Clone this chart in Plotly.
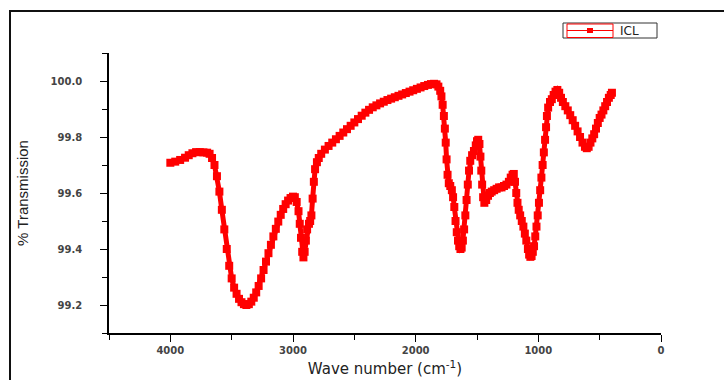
import plotly.graph_objects as go

# Wavenumber (cm^-1) and % transmission
wavenumber = [
    4000, 3960, 3920, 3880, 3850, 3820, 3790, 3760, 3730, 3700, 3680, 3660, 3640, 3620, 3600,
    3580, 3560, 3540, 3520, 3500, 3480, 3460, 3440, 3420, 3400, 3380, 3360, 3340, 3320, 3300,
    3280, 3260, 3240, 3220, 3200, 3180, 3160, 3140, 3120, 3100, 3080, 3060, 3040, 3020, 3000,
    2985, 2970, 2955, 2945, 2935, 2925, 2915, 2905, 2895, 2885, 2870, 2860, 2850, 2840, 2830,
    2820, 2805, 2790, 2770, 2740, 2710, 2680, 2650, 2620, 2590, 2560, 2530, 2500, 2470, 2440,
    2410, 2380, 2350, 2320, 2290, 2260, 2230, 2200, 2170, 2140, 2110, 2080, 2050, 2020, 1990,
    1960, 1930, 1900, 1875, 1850, 1830, 1815, 1800, 1790, 1780, 1770, 1762, 1755, 1748, 1740,
    1730, 1718, 1705, 1695, 1685, 1675, 1665, 1655, 1645, 1635, 1625, 1615, 1605, 1595, 1585,
    1575, 1565, 1555, 1540, 1525, 1510, 1500, 1490, 1480, 1472, 1465, 1458, 1450, 1440, 1425,
    1410, 1395, 1380, 1360, 1340, 1320, 1300, 1280, 1260, 1240, 1225, 1210, 1200, 1190, 1180,
    1170, 1160, 1148, 1135, 1122, 1110, 1098, 1085, 1075, 1065, 1055, 1045, 1035, 1025, 1015,
    1005, 995, 985, 975, 965, 955, 945, 937, 930, 920, 905, 890, 875, 860, 845,
    830, 815, 800, 780, 760, 740, 720, 700, 680, 660, 640, 620, 605, 590, 575,
    560, 545, 530, 515, 500, 485, 470, 455, 440, 425, 410, 400,
]
transmission = [
    99.708, 99.712, 99.718, 99.726, 99.735, 99.742, 99.746, 99.746, 99.745, 99.744, 99.740, 99.725, 99.700, 99.660, 99.605,
    99.540, 99.470, 99.400, 99.340, 99.295, 99.262, 99.240, 99.222, 99.210, 99.203, 99.200, 99.203, 99.212, 99.226, 99.245,
    99.268, 99.295, 99.325, 99.355, 99.385, 99.415, 99.445, 99.472, 99.498, 99.522, 99.543, 99.560, 99.573, 99.582, 99.587,
    99.585, 99.568, 99.535, 99.490, 99.440, 99.390, 99.370, 99.390, 99.430, 99.470, 99.490, 99.500, 99.520, 99.580, 99.640,
    99.685, 99.710, 99.725, 99.740, 99.755, 99.768, 99.780, 99.792, 99.804, 99.816, 99.828, 99.840, 99.852, 99.864, 99.876,
    99.887, 99.897, 99.906, 99.913, 99.920, 99.926, 99.932, 99.937, 99.942, 99.947, 99.952, 99.957, 99.962, 99.967, 99.972,
    99.977, 99.982, 99.986, 99.989, 99.990, 99.988, 99.980, 99.965, 99.945, 99.915, 99.875, 99.830, 99.780, 99.720, 99.665,
    99.635, 99.625, 99.610, 99.585, 99.550, 99.500, 99.460, 99.430, 99.410, 99.400, 99.405, 99.430, 99.470, 99.520, 99.575,
    99.630, 99.680, 99.715, 99.735, 99.750, 99.770, 99.785, 99.790, 99.775, 99.730, 99.680, 99.630, 99.585, 99.565, 99.575,
    99.590, 99.600, 99.605, 99.610, 99.615, 99.620, 99.620, 99.625, 99.630, 99.640, 99.655, 99.665, 99.668, 99.640, 99.600,
    99.565, 99.540, 99.520, 99.500, 99.480, 99.455, 99.430, 99.400, 99.380, 99.372, 99.375, 99.390, 99.410, 99.445, 99.480,
    99.520, 99.565, 99.610, 99.655, 99.700, 99.745, 99.790, 99.835, 99.875, 99.905, 99.925, 99.935, 99.950, 99.962, 99.968,
    99.958, 99.940, 99.925, 99.910, 99.895, 99.878, 99.860, 99.840, 99.820, 99.800, 99.780, 99.765, 99.760, 99.765, 99.780,
    99.795, 99.810, 99.830, 99.850, 99.868, 99.880, 99.895, 99.910, 99.925, 99.940, 99.950, 99.958,
]
series_name = "ICL"
x_tick_values = [4000, 3000, 2000, 1000, 0]
y_tick_values = [99.2, 99.4, 99.6, 99.8, 100.0]

RED = "#ff0000"
W, H = 724, 380
ML, MR, MT, MB = 109, 63, 53, 47
PW, PH = W - ML - MR, H - MT - MB


def px_to_paper_x(px):
    return (px - ML) / PW


def px_to_paper_y(py):
    return (H - MB - py) / PH


fig = go.Figure()
fig.add_trace(go.Scatter(
    x=wavenumber, y=transmission, name=series_name,
    mode="lines+markers", showlegend=False,
    line=dict(color=RED, width=5),
    marker=dict(symbol="square", size=8, color=RED, line=dict(width=0)),
))

tickfont = dict(family="DejaVu Sans, Liberation Sans, sans-serif", size=10, color="#444444", weight="bold")

# hand-built legend box (matches the compact Origin-style legend)
lg_x0, lg_x1, lg_y0, lg_y1 = 563, 657, 23, 38
sym_x0, sym_x1 = 567, 613
lg_mid = (lg_y0 + lg_y1) / 2
legend_shapes = [
    dict(type="rect", xref="paper", yref="paper",
         x0=px_to_paper_x(lg_x0), x1=px_to_paper_x(lg_x1),
         y0=px_to_paper_y(lg_y1), y1=px_to_paper_y(lg_y0),
         line=dict(color="#333333", width=1), fillcolor="white"),
    dict(type="rect", xref="paper", yref="paper",
         x0=px_to_paper_x(sym_x0), x1=px_to_paper_x(sym_x1),
         y0=px_to_paper_y(lg_y1 - 0.5), y1=px_to_paper_y(lg_y0 + 1),
         line=dict(color=RED, width=1), fillcolor="rgba(0,0,0,0)"),
    dict(type="line", xref="paper", yref="paper",
         x0=px_to_paper_x(sym_x0), x1=px_to_paper_x(sym_x1),
         y0=px_to_paper_y(lg_mid), y1=px_to_paper_y(lg_mid),
         line=dict(color=RED, width=1)),
    dict(type="rect", xref="paper", yref="paper",
         x0=px_to_paper_x(587), x1=px_to_paper_x(593),
         y0=px_to_paper_y(lg_mid + 2.5), y1=px_to_paper_y(lg_mid - 2.5),
         line=dict(width=0), fillcolor=RED),
]

frame_shape = dict(
    type="rect", xref="paper", yref="paper",
    x0=px_to_paper_x(10), x1=px_to_paper_x(760),
    y0=px_to_paper_y(420), y1=px_to_paper_y(11),
    line=dict(color="#111111", width=2), fillcolor="rgba(0,0,0,0)", layer="above",
)

fig.update_layout(
    width=W, height=H,
    margin=dict(l=ML, r=MR, t=MT, b=MB, autoexpand=False),
    paper_bgcolor="white", plot_bgcolor="white",
    showlegend=False,
    xaxis=dict(
        range=[4500, 0], autorange=False,
        tickmode="array", tickvals=x_tick_values,
        ticks="outside", ticklen=7, tickwidth=1.2, tickcolor="black",
        minor=dict(dtick=500, tick0=0, ticks="outside", ticklen=5, tickwidth=1.2, tickcolor="black"),
        showline=True, linecolor="black", linewidth=1.5, mirror=False,
        showgrid=False, zeroline=False,
        tickfont=tickfont,
        title=dict(text="Wave number (cm<sup>-1</sup>)",
                   font=dict(family="DejaVu Sans, Liberation Sans, sans-serif", size=15, color="#222222"),
                   standoff=9),
    ),
    yaxis=dict(
        range=[99.1, 100.1], autorange=False,
        tickmode="array", tickvals=y_tick_values, tickformat=".1f",
        ticks="outside", ticklen=7, tickwidth=1.2, tickcolor="black",
        minor=dict(dtick=0.1, tick0=99.1, ticks="outside", ticklen=5, tickwidth=1.2, tickcolor="black"),
        showline=True, linecolor="black", linewidth=1.5, mirror=False,
        showgrid=False, zeroline=False,
        tickfont=tickfont, ticklabelstandoff=16,
        title=dict(text="% Transmission",
                   font=dict(family="Liberation Sans Narrow, Liberation Sans, Arial, sans-serif", size=15, color="#222222"),
                   standoff=18),
    ),
    shapes=legend_shapes + [frame_shape],
    annotations=[dict(
        text=series_name, xref="paper", yref="paper",
        x=px_to_paper_x(618), y=px_to_paper_y(lg_mid), xanchor="left", yanchor="middle",
        showarrow=False,
        font=dict(family="DejaVu Sans, Liberation Sans, sans-serif", size=12, color="#222222"),
    )],
)

fig.write_html("out.html")
